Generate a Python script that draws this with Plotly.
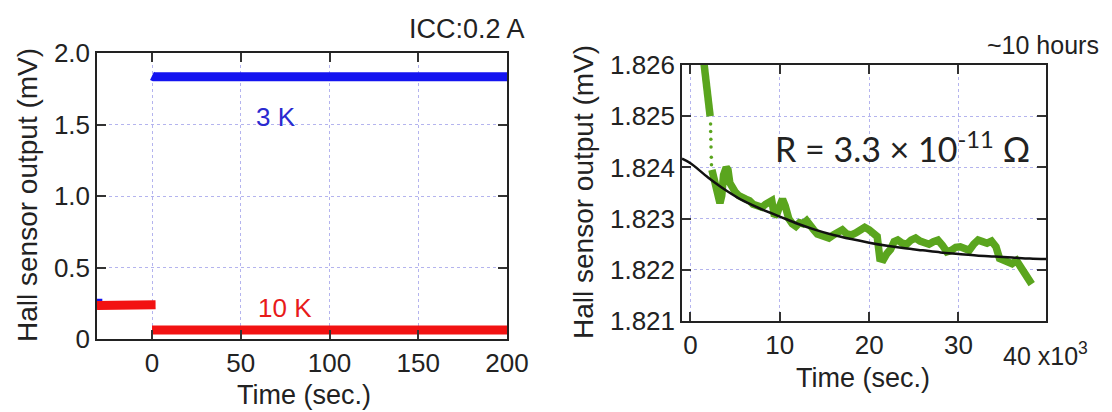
import plotly.graph_objects as go

# ---------------- data: left panel (short time, two temperatures) ----------------
blue_t = [-31, -28, None, 0, 1, 203]
blue_v = [0.25, 0.25, None, 1.840, 1.834, 1.834]

red_t = [-31, 2, None, 0, 203]
red_v = [0.235, 0.24, None, 0.063, 0.063]

left_xticks = [0, 50, 100, 150, 200]
left_yticks = [0, 0.5, 1.0, 1.5, 2.0]
left_yticktext = ["0", "0.5", "1.0", "1.5", "2.0"]

# ---------------- data: right panel (long time decay) ----------------
green_t = [1400, 1700, 2000, 2200, None,
           2400, 2700, 3000, 3300, 3500, 3700, 4000, 4200, 4400, 4700, 5000, 5400, 5800,
           6200, 6600, 7000, 7500, 8000, 8400, 8800, 9100, 9400, 9700, 10000, 10300,
           10600, 11000, 11400, 11800, 12200, 12600, 13000, 13400, 13800, 14200, 14600,
           15000, 15500, 16000, 16500, 17000, 17500, 18000, 18500, 19000, 19500, 20000,
           20500, 20900, 21200, 21600, 22000, 22400, 22800, 23200, 23700, 24200, 24700,
           25200, 25700, 26200, 26700, 27200, 27700, 28200, 28700, 29200, 29700, 30200,
           30700, 31200, 31700, 32200, 32700, 33200, 33700, 34200, 34600, 35000, 35500,
           36000, 36500, 37000, 37500, 37900, 38200]
green_v = [1.82620, 1.82580, 1.82530, 1.82500, None,
           1.82395, 1.82375, 1.82350, 1.82330, 1.82345, 1.82385, 1.82400, 1.82395, 1.82370,
           1.82360, 1.82352, 1.82345, 1.82340, 1.82338, 1.82335, 1.82328, 1.82325, 1.82322,
           1.82328, 1.82333, 1.82335, 1.82305, 1.82310, 1.82325, 1.82338, 1.82325, 1.82300,
           1.82290, 1.82285, 1.82292, 1.82290, 1.82296, 1.82285, 1.82278, 1.82270, 1.82268,
           1.82265, 1.82262, 1.82268, 1.82275, 1.82278, 1.82270, 1.82268, 1.82272, 1.82278,
           1.82283, 1.82278, 1.82270, 1.82265, 1.82222, 1.82220, 1.82232, 1.82240, 1.82255,
           1.82258, 1.82252, 1.82250, 1.82258, 1.82262, 1.82256, 1.82252, 1.82250, 1.82255,
           1.82258, 1.82248, 1.82235, 1.82238, 1.82244, 1.82245, 1.82240, 1.82238, 1.82250,
           1.82258, 1.82255, 1.82252, 1.82256, 1.82245, 1.82222, 1.82218, 1.82215, 1.82212,
           1.82218, 1.82205, 1.82192, 1.82180, 1.82172]

sparse_t = [2250, 2260, 2280, 2300, 2330, 2350]
sparse_v = [1.82485, 1.82470, 1.82455, 1.82440, 1.82420, 1.82405]

fit_t = [-950, 0, 2000, 4000, 6000, 8000, 10000, 12000, 14000, 16000, 18000, 20000,
         22000, 24000, 26000, 28000, 30000, 32000, 34000, 36000, 38000, 39800]
fit_v = [1.82417, 1.82408, 1.82380, 1.82355, 1.82334, 1.82318, 1.82304, 1.82290,
         1.82278, 1.82268, 1.82260, 1.82253, 1.82247, 1.82242, 1.82238, 1.82234,
         1.82231, 1.82228, 1.82226, 1.82224, 1.82222, 1.82221]

right_xticks = [0, 10000, 20000, 30000]
right_xticktext = ["0", "10", "20", "30"]
right_yticks = [1.821, 1.822, 1.823, 1.824, 1.825, 1.826]
right_yticktext = ["1.821", "1.822", "1.823", "1.824", "1.825", "1.826"]

# ---------------- figure ----------------
W, H = 1112, 412
FONT = "Liberation Sans, Arial, sans-serif"
TXT = "#222222"
GRID = "#b4b4ee"

fig = go.Figure()

fig.add_trace(go.Scatter(x=blue_t, y=blue_v, mode="lines", xaxis="x", yaxis="y",
                         line=dict(color="#1414f0", width=9), connectgaps=False,
                         showlegend=False, hoverinfo="skip"))
fig.add_trace(go.Scatter(x=red_t, y=red_v, mode="lines", xaxis="x", yaxis="y",
                         line=dict(color="#f21212", width=9), connectgaps=False,
                         showlegend=False, hoverinfo="skip"))

fig.add_trace(go.Scatter(x=green_t, y=green_v, mode="lines", xaxis="x2", yaxis="y2",
                         line=dict(color="#5aa51e", width=7.5), connectgaps=False,
                         showlegend=False, hoverinfo="skip"))
fig.add_trace(go.Scatter(x=sparse_t, y=sparse_v, mode="markers", xaxis="x2", yaxis="y2",
                         marker=dict(color="#5aa51e", size=3.5),
                         showlegend=False, hoverinfo="skip"))
fig.add_trace(go.Scatter(x=fit_t, y=fit_v, mode="lines", xaxis="x2", yaxis="y2",
                         line=dict(color="#111111", width=2.5, shape="spline"),
                         showlegend=False, hoverinfo="skip"))

def px_x(p):
    return p / W

def px_y(p):
    return 1 - p / H

axis_common = dict(showline=True, linecolor="#222222", linewidth=1.5, mirror="ticks",
                   ticks="inside", ticklen=9, tickwidth=1.5, tickcolor="#333333",
                   showgrid=True, gridcolor=GRID, griddash="dot", gridwidth=1,
                   zeroline=False, automargin=False,
                   tickfont=dict(family=FONT, size=26, color=TXT))

fig.update_layout(
    template="none",
    width=W, height=H,
    margin=dict(l=0, r=0, t=0, b=0, pad=0, autoexpand=False),
    paper_bgcolor="white", plot_bgcolor="white",
    xaxis=dict(domain=[px_x(97), px_x(507)], range=[-31, 200], tickvals=left_xticks,
               anchor="y", **axis_common),
    yaxis=dict(domain=[px_y(339), px_y(53)], range=[0, 2.0], tickvals=left_yticks,
               ticktext=left_yticktext, anchor="x", **axis_common),
    xaxis2=dict(domain=[px_x(682), px_x(1046)], range=[-950, 39800], tickvals=right_xticks,
                ticktext=right_xticktext, anchor="y2", **axis_common),
    yaxis2=dict(domain=[px_y(321), px_y(65)], range=[1.821, 1.826], tickvals=right_yticks,
                ticktext=right_yticktext, anchor="x2", **axis_common),
)

ann = []
def add_text(text, x, y, size, color=TXT, angle=0, family=FONT, xanchor="center"):
    ann.append(dict(text=text, x=px_x(x), y=px_y(y), xref="paper", yref="paper",
                    showarrow=False, font=dict(family=family, size=size, color=color),
                    textangle=angle, xanchor=xanchor, yanchor="middle"))

add_text("Hall sensor output (mV)", 27, 195, 28, angle=-90)
add_text("Time (sec.)", 304, 395, 27)
add_text("ICC:0.2 A", 467, 29, 27)
add_text("Hall sensor output (mV)", 583, 192, 28, angle=-90)
add_text("Time (sec.)", 863, 378, 27)
add_text("~10 hours", 1043, 45, 25)
add_text("40 x10<sup>3</sup>", 1045, 354, 25)
add_text("R = 3.3 × 10<sup>-11</sup> Ω", 902, 147, 34, family="Lato, Open Sans, sans-serif")

fig.update_layout(annotations=ann)

# data-anchored labels on the left panel
fig.add_annotation(text="3 K", x=70, y=1.55, xref="x", yref="y", showarrow=False,
                   font=dict(family=FONT, size=26, color="#2a2ad0"))
fig.add_annotation(text="10 K", x=75, y=0.22, xref="x", yref="y", showarrow=False,
                   font=dict(family=FONT, size=26, color="#e81a1a"))

# remove the browser's default page margin so the figure sits at the window's corner
fig.write_html("out.html",
               config={"displayModeBar": False},
               post_script="document.body.style.margin='0';document.body.style.overflow='hidden';")
